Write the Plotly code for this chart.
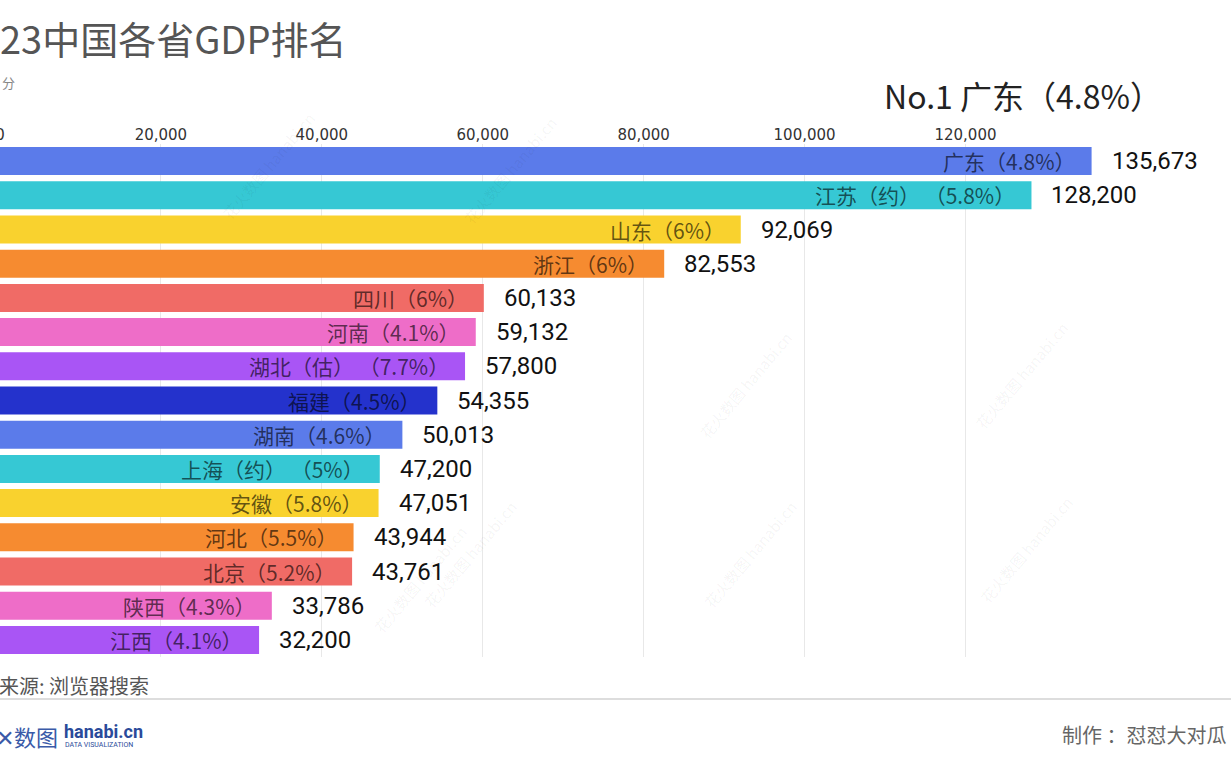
import plotly.graph_objects as go

W, H = 1231, 768

PROVINCES = ["广东", "江苏", "山东", "浙江", "四川", "河南", "湖北", "福建",
             "湖南", "上海", "安徽", "河北", "北京", "陕西", "江西"]
BAR_LABELS = ["广东（4.8%）", "江苏（约） （5.8%）", "山东（6%）", "浙江（6%）",
              "四川（6%）", "河南（4.1%）", "湖北（估） （7.7%）", "福建（4.5%）",
              "湖南（4.6%）", "上海（约） （5%）", "安徽（5.8%）", "河北（5.5%）",
              "北京（5.2%）", "陕西（4.3%）", "江西（4.1%）"]
GDP = [135673, 128200, 92069, 82553, 60133, 59132, 57800, 54355,
       50013, 47200, 47051, 43944, 43761, 33786, 32200]
PALETTE = ["#5B7BEA", "#36C8D4", "#F9D22E", "#F68B30",
           "#F06B66", "#EE6DC8", "#A955F5", "#2432CC"]
COLORS = [PALETTE[i % len(PALETTE)] for i in range(len(GDP))]
TICKS = [0, 20000, 40000, 60000, 80000, 100000, 120000]

# plot area in pixels
PLOT_T, PLOT_B = 144, 657
X_MAX = 153000

CJK = "Noto Sans CJK SC, Noto Sans, sans-serif"


def py(pix):
    """pixel row -> paper y"""
    return (PLOT_B - pix) / (PLOT_B - PLOT_T)


def px(pix):
    return pix / W


fig = go.Figure()
fig.add_trace(go.Bar(
    x=GDP, y=PROVINCES, orientation="h",
    marker=dict(color=COLORS, line=dict(width=0)),
    width=0.82, hoverinfo="skip",
))

anns = []
for name, lab, val in zip(PROVINCES, BAR_LABELS, GDP):
    anns.append(dict(x=val, y=name, xref="x", yref="y", text=lab, showarrow=False,
                     xanchor="right", xshift=-14,
                     font=dict(family=CJK, size=21, color="rgba(0,0,0,0.62)")))
    anns.append(dict(x=val, y=name, xref="x", yref="y", text=f"{val:,}", showarrow=False,
                     xanchor="left", xshift=18,
                     font=dict(family="Roboto, sans-serif", size=24, color="#111")))

# titles / texts
anns += [
    dict(x=px(-2), y=py(37), xref="paper", yref="paper", text="23中国各省GDP排名",
         showarrow=False, xanchor="left", yanchor="middle",
         font=dict(family=CJK, size=38, color="#555")),
    dict(x=px(0), y=py(83), xref="paper", yref="paper", text="分",
         showarrow=False, xanchor="left", yanchor="middle",
         font=dict(family=CJK, size=13, color="#888")),
    dict(x=px(882), y=py(95), xref="paper", yref="paper", text="No.1 广东（4.8%）",
         showarrow=False, xanchor="left", yanchor="middle",
         font=dict(family=CJK, size=32, color="#222")),
    dict(x=px(-3), y=py(685), xref="paper", yref="paper", text="来源: 浏览器搜索",
         showarrow=False, xanchor="left", yanchor="middle",
         font=dict(family=CJK, size=20, color="#555")),
    dict(x=px(-6), y=py(736), xref="paper", yref="paper", text="✕数图",
         showarrow=False, xanchor="left", yanchor="middle",
         font=dict(family=CJK, size=22, color="#3a5aa8")),
    dict(x=px(62), y=py(731), xref="paper", yref="paper", text="<b>hanabi.cn</b>",
         showarrow=False, xanchor="left", yanchor="middle",
         font=dict(family="Roboto, sans-serif", size=18, color="#2a4a9a")),
    dict(x=px(63), y=py(745), xref="paper", yref="paper", text="DATA VISUALIZATION",
         showarrow=False, xanchor="left", yanchor="middle",
         font=dict(family="Roboto, sans-serif", size=7, color="#2a4a9a")),
    dict(x=px(1060), y=py(735), xref="paper", yref="paper", text="制作 ：怼怼大对瓜",
         showarrow=False, xanchor="left", yanchor="middle",
         font=dict(family=CJK, size=20, color="#666")),
]

# faint watermarks
for wx, wy in [(215, 105), (510, 110), (745, 385), (1075, 375),
               (470, 615), (750, 615), (1080, 610), (420, 640)]:
    anns.append(dict(x=px(wx), y=py(wy), xref="paper", yref="paper", text="花火数图 hanabi.cn",
                     showarrow=False, textangle=-50,
                     font=dict(family=CJK, size=15, color="rgba(0,0,0,0.05)")))

fig.update_layout(
    width=W, height=H,
    margin=dict(l=0, r=0, t=PLOT_T, b=H - PLOT_B, pad=0, autoexpand=False),
    paper_bgcolor="white", plot_bgcolor="white",
    showlegend=False,
    annotations=anns,
    shapes=[dict(type="line", xref="paper", yref="paper", x0=0, x1=1,
                 y0=py(699), y1=py(699), line=dict(color="#ddd", width=2))],
)
fig.update_xaxes(
    side="top", range=[0, X_MAX], tickvals=TICKS, tickformat=",",
    showgrid=True, gridcolor="#e8e8e8", gridwidth=1, zeroline=False,
    showline=False, ticks="", ticklabeloverflow="allow", automargin=False,
    tickfont=dict(family="DejaVu Sans, sans-serif", size=15, color="#333"),
)
fig.update_yaxes(
    autorange=False, range=[len(GDP) - 0.5, -0.5], categoryorder="array",
    categoryarray=PROVINCES, showticklabels=False, showgrid=False, zeroline=False,
    automargin=False,
)

fig.write_html("out.html", config={"displayModeBar": False},
               post_script="document.body.style.margin='0';")
